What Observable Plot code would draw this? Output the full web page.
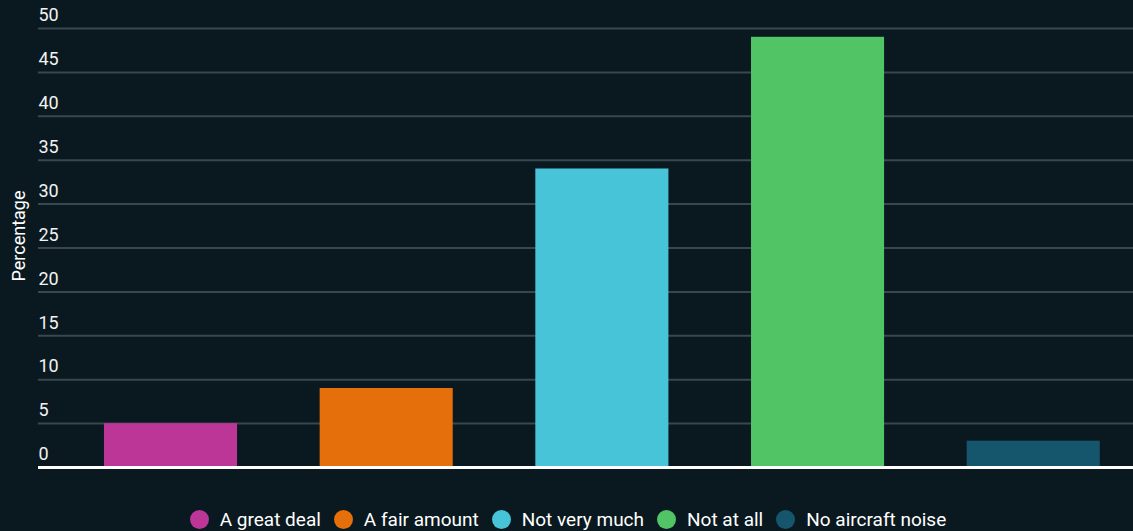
<!DOCTYPE html>
<html>
<head>
<meta charset="utf-8">
<script src="https://cdn.jsdelivr.net/npm/d3@7"></script>
<script src="https://cdn.jsdelivr.net/npm/@observablehq/plot@0.6"></script>
<style>
  html, body { margin: 0; padding: 0; background: #0a1920; width: 1133px; height: 531px; overflow: hidden; }
  #chart svg { display: block; }
  #legend {
    display: flex; align-items: center; justify-content: center;
    font-family: Roboto, sans-serif; font-size: 19px; color: #ffffff;
    height: 22px; margin-top: 12px; white-space: nowrap; padding-left: 3px;
  }
  #legend .item { display: flex; align-items: center; margin-right: 13px; }
  #legend .item:last-child { margin-right: 0; }
  #legend .dot { width: 19px; height: 19px; border-radius: 50%; margin-right: 11px; }
</style>
</head>
<body>
<div id="chart"></div>
<div id="legend"></div>
<script>
const categories = ["A great deal", "A fair amount", "Not very much", "Not at all", "No aircraft noise"];
const values = [5, 9, 34, 49, 3];
const colors = ["#bb3697", "#e56f0b", "#48c4d8", "#51c466", "#16566c"];
const yTicks = [0, 5, 10, 15, 20, 25, 30, 35, 40, 45, 50];
const yLabel = "Percentage";

const data = categories.map((c, i) => ({category: c, value: values[i]}));

const chart = Plot.plot({
  width: 1133,
  height: 496,
  marginLeft: 38,
  marginRight: 0,
  marginTop: 28,
  marginBottom: 29,
  style: {background: "transparent", color: "#ffffff", fontFamily: "Roboto, sans-serif", fontSize: "18px"},
  x: {domain: categories, paddingInner: 0.383, paddingOuter: 0.23, align: 0.665, round: false, axis: null},
  y: {domain: [0, 50]},
  color: {domain: categories, range: colors},
  marks: [
    Plot.gridY(yTicks, {stroke: "#39474e", strokeOpacity: 1, strokeWidth: 2}),
    Plot.barY(data, {x: "category", y: "value", fill: "category"}),
    Plot.ruleY([0], {stroke: "#ffffff", strokeWidth: 3}),
    Plot.axisY(yTicks, {
      tickSize: 0, tickPadding: 0, textAnchor: "start", dy: -13,
      fontSize: 18, fill: "#f2f2f2", label: null
    }),
    Plot.text([yLabel], {
      text: d => d, frameAnchor: "left", rotate: -90, dx: -19, dy: -12,
      fontSize: 18, fill: "#ffffff", textAnchor: "middle", lineAnchor: "middle"
    })
  ]
});
document.getElementById("chart").appendChild(chart);

const legend = document.getElementById("legend");
categories.forEach((c, i) => {
  const item = document.createElement("div");
  item.className = "item";
  const dot = document.createElement("span");
  dot.className = "dot";
  dot.style.background = colors[i];
  const t = document.createElement("span");
  t.textContent = c;
  item.appendChild(dot);
  item.appendChild(t);
  legend.appendChild(item);
});
</script>
</body>
</html>
